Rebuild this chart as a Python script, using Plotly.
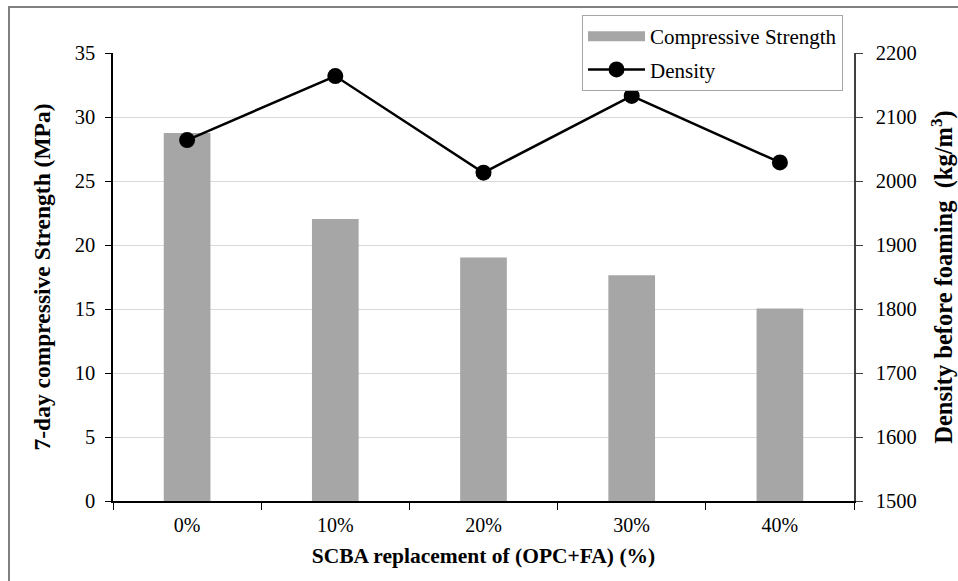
import plotly.graph_objects as go

categories = ["0%", "10%", "20%", "30%", "40%"]
strength = [28.75, 22.03, 19.03, 17.64, 15.03]
density = [2064, 2164, 2013, 2133, 2029]

FONT = "Liberation Serif"
W, H = 958, 581
ML, MR, MT, MB = 113, 104, 53, 80
PW = W - ML - MR
PH = H - MT - MB

def px2x(px):
    return (px - ML) / PW

def px2y(py):
    return (H - MB - py) / PH

fig = go.Figure()

fig.add_trace(go.Bar(
    x=categories, y=strength, width=0.315,
    marker=dict(color="#a6a6a6", line=dict(width=0)),
    name="Compressive Strength", showlegend=False, legendgroup="a",
))
# legend swatch for the bars (wide grey bar like the original)
fig.add_trace(go.Scatter(
    x=[None], y=[None], mode="lines",
    line=dict(color="#a6a6a6", width=11),
    name="Compressive Strength", legendgroup="a",
))
fig.add_trace(go.Scatter(
    x=categories, y=density, yaxis="y2", mode="lines+markers",
    line=dict(color="black", width=2.5),
    marker=dict(color="black", size=16, symbol="circle"),
    name="Density", legendgroup="b",
))

fig.update_layout(
    width=W, height=H,
    margin=dict(l=ML, r=MR, t=MT, b=MB, autoexpand=False),
    paper_bgcolor="white", plot_bgcolor="white",
    font=dict(family=FONT, size=20, color="black"),
    bargap=0.685,
    xaxis=dict(
        type="category", tickson="boundaries",
        ticks="outside", ticklen=7, tickcolor="black", tickwidth=1,
        showline=True, linecolor="black", linewidth=1.5,
        showgrid=False, zeroline=False,
        tickfont=dict(family=FONT, size=20),
        ticklabelstandoff=5,
        title=dict(text="<b>SCBA replacement of (OPC+FA) (%)</b>",
                   font=dict(family=FONT, size=21.5), standoff=13),
        range=[-0.5, 4.5],
    ),
    yaxis=dict(
        range=[0, 35], dtick=5, tick0=0,
        ticks="outside", ticklen=6, tickcolor="black", tickwidth=1,
        showline=True, linecolor="black", linewidth=1.5,
        showgrid=True, gridcolor="#d9d9d9", gridwidth=1,
        zeroline=False,
        tickfont=dict(family=FONT, size=20.5),
        ticklabelstandoff=6,
        title=dict(text="<b>7-day compressive Strength (MPa)</b>",
                   font=dict(family=FONT, size=23.5), standoff=17),
    ),
    yaxis2=dict(
        overlaying="y", side="right",
        range=[1500, 2200], dtick=100, tick0=1500,
        ticks="outside", ticklen=7, tickcolor="#404040", tickwidth=1,
        showline=True, linecolor="#404040", linewidth=1.5,
        showgrid=False, zeroline=False,
        tickfont=dict(family=FONT, size=20.5),
        ticklabelstandoff=9,
        title=dict(text="<b>Density before foaming  (kg/m<sup>3</sup>)</b>",
                   font=dict(family=FONT, size=24.5), standoff=19),
    ),
    legend=dict(
        x=px2x(582), y=px2y(15), xanchor="left", yanchor="top",
        bgcolor="white", bordercolor="#a6a6a6", borderwidth=1,
        font=dict(family=FONT, size=21, color="black"),
        tracegroupgap=3, itemwidth=57,
    ),
    shapes=[dict(
        type="rect", xref="paper", yref="paper",
        x0=px2x(9), y0=px2y(600), x1=px2x(990), y1=px2y(7),
        line=dict(color="#808080", width=2), fillcolor="rgba(0,0,0,0)",
        layer="below",
    )],
)

fig.write_html("out.html")
